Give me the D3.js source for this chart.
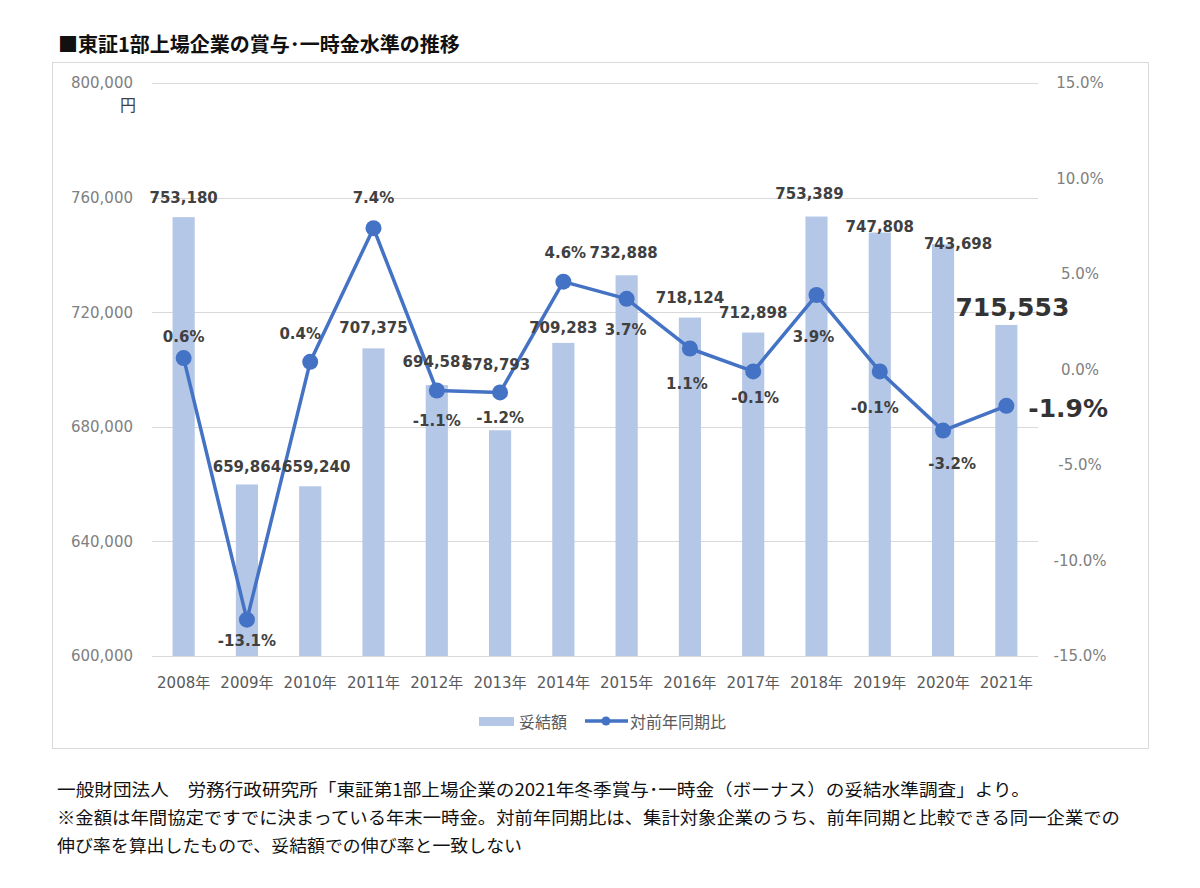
<!DOCTYPE html>
<html>
<head>
<meta charset="utf-8">
<script src="https://cdn.jsdelivr.net/npm/d3@7"></script>
<style>
  body { margin: 0; background: #fff; }
  svg text { font-family: "DejaVu Sans", "Noto Sans CJK JP", sans-serif; }
  .jp { font-family: "Noto Sans CJK JP", sans-serif; }
</style>
</head>
<body>
<svg id="chart" width="1200" height="888"></svg>
<script>
// データ
var years = ["2008年", "2009年", "2010年", "2011年", "2012年", "2013年", "2014年",
  "2015年", "2016年", "2017年", "2018年", "2019年", "2020年", "2021年"];
var amounts = [753180, 659864, 659240, 707375, 694581, 678793, 709283,
  732888, 718124, 712898, 753389, 747808, 743698, 715553];
var growth = [0.6, -13.1, 0.4, 7.4, -1.1, -1.2, 4.6, 3.7, 1.1, -0.1, 3.9, -0.1, -3.2, -1.9];
var leftTicks = [600000, 640000, 680000, 720000, 760000, 800000];
var rightTicks = [-15, -10, -5, 0, 5, 10, 15];
var legendNames = ["妥結額", "対前年同期比"];

// ラベル位置の微調整 (Excelで手動移動されているもの) [dx, dy]
var amountShift = [[0,-19],[0,-17],[6,-19],[0,-20],[0,-23],[-4,-65],[0,-15],
  [-3,-22],[0,-20],[0,-20],[-7,-23],[0,-6],[15,0],[6,-17]];
var pctShift = [[0,-21],[0,21],[-10,-28],[0,-30],[0,30],[0,26],[2,-29],
  [-1,31],[-3,36],[2,27],[-3,42],[-5,37],[9,33],[22,3]];

var svg = d3.select("#chart");

var plotTop = 83, plotBottom = 656, plotLeft = 152, plotRight = 1038;

var x = d3.scaleBand().domain(years).range([plotLeft, plotRight])
  .paddingInner(0.65).paddingOuter(0.325);
var yL = d3.scaleLinear().domain([600000, 800000]).range([plotBottom, plotTop]);
var yR = d3.scaleLinear().domain([-15, 15]).range([plotBottom, plotTop]);
function cx(i) { return x(years[i]) + x.bandwidth() / 2; }

// タイトル
svg.append("text").attr("class", "jp")
  .attr("x", 58).attr("y", 52)
  .attr("font-size", 20).attr("font-weight", "bold").attr("fill", "#111")
  .text("■東証1部上場企業の賞与･一時金水準の推移");

// 枠
svg.append("rect").attr("x", 52.5).attr("y", 62.5).attr("width", 1096).attr("height", 686)
  .attr("fill", "#fff").attr("stroke", "#d9d9d9");

// グリッド
svg.append("g").selectAll("line").data(leftTicks).enter().append("line")
  .attr("x1", plotLeft).attr("x2", plotRight)
  .attr("y1", function(d) { return Math.round(yL(d)) + 0.5; })
  .attr("y2", function(d) { return Math.round(yL(d)) + 0.5; })
  .attr("stroke", "#d9d9d9").attr("stroke-width", 1);

// 左軸
var axL = svg.append("g").attr("transform", "translate(136,0)")
  .call(d3.axisLeft(yL).tickValues(leftTicks).tickFormat(d3.format(",")).tickSize(0));
axL.select(".domain").remove();
axL.selectAll("text").attr("font-size", 15).attr("fill", "#808080")
  .style("font-family", "DejaVu Sans");
svg.append("text").attr("class", "jp").attr("x", 128).attr("y", 104)
  .attr("text-anchor", "middle").attr("dominant-baseline", "central")
  .attr("font-size", 16).attr("fill", "#404040").text("円");

// 右軸
var axR = svg.append("g").attr("transform", "translate(1080,0)")
  .call(d3.axisRight(yR).tickValues(rightTicks)
    .tickFormat(function(d) { return d.toFixed(1) + "%"; }).tickSize(0));
axR.select(".domain").remove();
axR.selectAll("text").attr("x", 0).attr("text-anchor", "middle")
  .attr("font-size", 15).attr("fill", "#808080").style("font-family", "DejaVu Sans");

// 下軸
var axB = svg.append("g").attr("transform", "translate(0," + (plotBottom + 18) + ")")
  .call(d3.axisBottom(x).tickSize(0));
axB.select(".domain").remove();
axB.selectAll("text").attr("font-size", 15).attr("fill", "#595959");

// 棒
svg.append("g").selectAll("rect").data(amounts).enter().append("rect")
  .attr("x", function(d, i) { return x(years[i]); })
  .attr("width", x.bandwidth())
  .attr("y", function(d) { return yL(d); })
  .attr("height", function(d) { return plotBottom - yL(d); })
  .attr("fill", "#b4c7e7");

// 折れ線
var line = d3.line()
  .x(function(d, i) { return cx(i); })
  .y(function(d) { return yR(d); });
svg.append("path").datum(growth).attr("d", line)
  .attr("fill", "none").attr("stroke", "#4472c4").attr("stroke-width", 3.5)
  .attr("stroke-linejoin", "round");
svg.append("g").selectAll("circle").data(growth).enter().append("circle")
  .attr("cx", function(d, i) { return cx(i); })
  .attr("cy", function(d) { return yR(d); })
  .attr("r", 8).attr("fill", "#4472c4");

// 棒ラベル
var last = amounts.length - 1;
svg.append("g").selectAll("text").data(amounts).enter().append("text")
  .attr("x", function(d, i) { return cx(i) + amountShift[i][0]; })
  .attr("y", function(d, i) { return yL(d) + amountShift[i][1]; })
  .attr("text-anchor", "middle").attr("dominant-baseline", "central")
  .attr("font-size", function(d, i) { return i === last ? 25 : 15; })
  .attr("font-weight", "bold")
  .attr("fill", function(d, i) { return i === last ? "#333" : "#404040"; })
  .text(function(d) { return d3.format(",")(d); });

// 折れ線ラベル
svg.append("g").selectAll("text").data(growth).enter().append("text")
  .attr("x", function(d, i) { return cx(i) + pctShift[i][0]; })
  .attr("y", function(d, i) { return yR(d) + pctShift[i][1]; })
  .attr("text-anchor", function(d, i) { return i === last ? "start" : "middle"; })
  .attr("dominant-baseline", "central")
  .attr("font-size", function(d, i) { return i === last ? 25 : 15; })
  .attr("font-weight", "bold")
  .attr("fill", function(d, i) { return i === last ? "#333" : "#404040"; })
  .text(function(d) { return d.toFixed(1) + "%"; });

// 凡例
var lg = svg.append("g").attr("transform", "translate(0,721)");
lg.append("rect").attr("x", 479).attr("y", -4).attr("width", 35).attr("height", 9).attr("fill", "#b4c7e7");
lg.append("text").attr("class", "jp").attr("x", 519).attr("y", 0).attr("dominant-baseline", "central")
  .attr("font-size", 16).attr("fill", "#595959").text(legendNames[0]);
lg.append("line").attr("x1", 585).attr("x2", 628).attr("y1", 0).attr("y2", 0)
  .attr("stroke", "#4472c4").attr("stroke-width", 3.5);
lg.append("circle").attr("cx", 606).attr("cy", 0).attr("r", 4.5).attr("fill", "#4472c4");
lg.append("text").attr("class", "jp").attr("x", 630).attr("y", 0).attr("dominant-baseline", "central")
  .attr("font-size", 16).attr("fill", "#595959").text(legendNames[1]);

// 注記
var notes = [
  ["一般財団法人　労務行政研究所「東証第1部上場企業の2021年冬季賞与･一時金（ボーナス）の妥結水準調査」より。", 973],
  ["※金額は年間協定ですでに決まっている年末一時金。対前年同期比は、集計対象企業のうち、前年同期と比較できる同一企業での", 1063],
  ["伸び率を算出したもので、妥結額での伸び率と一致しない", 465]
];
svg.append("g").selectAll("text").data(notes).enter().append("text")
  .attr("class", "jp")
  .attr("x", 57).attr("y", function(d, i) { return 788 + i * 28; })
  .attr("dominant-baseline", "central")
  .attr("font-size", 17).attr("fill", "#111")
  .attr("textLength", function(d) { return d[1]; })
  .attr("lengthAdjust", "spacingAndGlyphs")
  .text(function(d) { return d[0]; });
</script>
</body>
</html>
